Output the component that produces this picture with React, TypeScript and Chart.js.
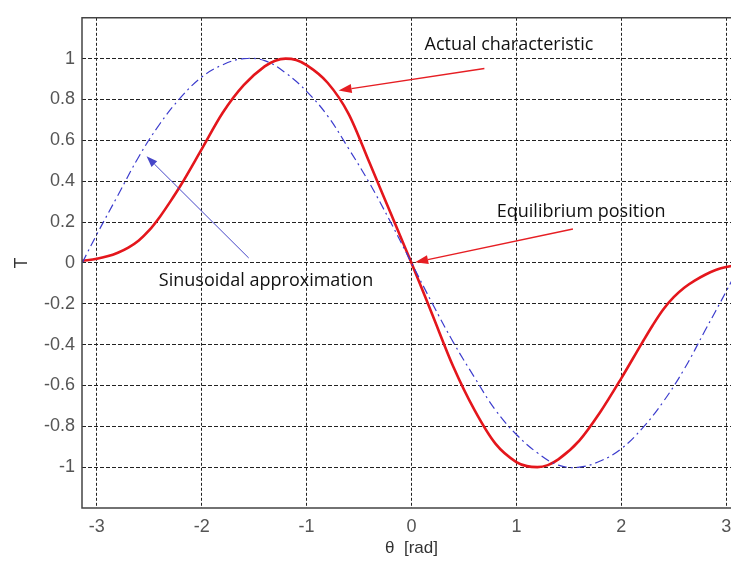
import { useEffect, useRef } from 'react';
import { Chart, registerables } from 'chart.js';

Chart.register(...registerables);

// Actual characteristic (red, solid)
const actualTheta = [-3.14, -3.0, -2.9, -2.8, -2.7, -2.6, -2.5, -2.4, -2.3, -2.2, -2.0, -1.8, -1.6, -1.4, -1.3, -1.2, -1.1, -1.0, -0.8, -0.6, -0.4, -0.2, 0,
  0.2, 0.4, 0.6, 0.8, 1.0, 1.1, 1.2, 1.3, 1.4, 1.6, 1.8, 2.0, 2.2, 2.3, 2.4, 2.5, 2.6, 2.7, 2.8, 2.9, 3.0, 3.14];
const actualT = [0.01, 0.02, 0.032, 0.05, 0.075, 0.11, 0.16, 0.225, 0.3, 0.38, 0.557, 0.735, 0.87, 0.962, 0.99, 1.0, 0.993, 0.968, 0.882, 0.73, 0.49, 0.245, 0,
  -0.255, -0.51, -0.72, -0.885, -0.975, -0.995, -1.0, -0.99, -0.962, -0.87, -0.73, -0.565, -0.39, -0.305, -0.228, -0.168, -0.122, -0.087, -0.058, -0.035, -0.02, -0.01];

// Sinusoidal approximation (blue, dash-dot)
const sinTheta = [-3.14, -3.0, -2.8, -2.6, -2.4, -2.2, -2.0, -1.8, -1.6, -1.4, -1.2, -1.0, -0.8, -0.6, -0.4, -0.2, 0,
  0.2, 0.4, 0.6, 0.8, 1.0, 1.2, 1.4, 1.6, 1.8, 2.0, 2.2, 2.4, 2.6, 2.8, 3.0, 3.14];
const sinT = [0.0, 0.14, 0.33, 0.52, 0.68, 0.81, 0.91, 0.97, 1.0, 0.99, 0.93, 0.84, 0.72, 0.56, 0.39, 0.2, 0,
  -0.2, -0.39, -0.56, -0.72, -0.84, -0.93, -0.99, -1.0, -0.97, -0.91, -0.81, -0.68, -0.52, -0.33, -0.14, 0.0];

// Axis ticks
const yTickValues = [-1, -0.8, -0.6, -0.4, -0.2, 0, 0.2, 0.4, 0.6, 0.8, 1];

// Annotations (data coordinates)
const noteTexts = ['Actual characteristic', 'Equilibrium position', 'Sinusoidal approximation'];
const noteTheta = [0.124, 0.813, -2.409];
const noteT = [1.043, 0.226, -0.113];

const arrowFromTheta = [0.695, 1.539, -1.552];
const arrowFromT = [0.952, 0.166, 0.024];
const arrowToTheta = [-0.695, 0.035, -2.526];
const arrowToT = [0.844, 0.003, 0.522];
const arrowColors = ['rgb(230,30,35)', 'rgb(230,30,35)', 'rgb(70,70,200)'];

const RED = 'rgb(228,22,28)';
const BLUE = 'rgb(60,60,205)';

const framePlugin = {
  id: 'frame',
  afterDraw(chart: any) {
    const { ctx, chartArea } = chart;
    ctx.save();
    ctx.strokeStyle = '#444';
    ctx.lineWidth = 1.5;
    ctx.beginPath();
    ctx.moveTo(chartArea.right, chartArea.top);
    ctx.lineTo(chartArea.left, chartArea.top);
    ctx.lineTo(chartArea.left, chartArea.bottom);
    ctx.lineTo(chartArea.right, chartArea.bottom);
    ctx.stroke();
    ctx.restore();
  },
};

const notesPlugin = {
  id: 'notes',
  afterDatasetsDraw(chart: any) {
    const { ctx } = chart;
    const xs = chart.scales.x;
    const ys = chart.scales.y;
    ctx.save();
    ctx.font = '18px "Open Sans"';
    ctx.fillStyle = '#111';
    ctx.textBaseline = 'alphabetic';
    ctx.textAlign = 'left';
    noteTexts.forEach((t, i) => {
      ctx.fillText(t, xs.getPixelForValue(noteTheta[i]), ys.getPixelForValue(noteT[i]));
    });
    arrowFromTheta.forEach((_, i) => {
      const x1 = xs.getPixelForValue(arrowFromTheta[i]);
      const y1 = ys.getPixelForValue(arrowFromT[i]);
      const x2 = xs.getPixelForValue(arrowToTheta[i]);
      const y2 = ys.getPixelForValue(arrowToT[i]);
      const ang = Math.atan2(y2 - y1, x2 - x1);
      const isBlue = i === 2;
      const headLen = isBlue ? 11 : 13;
      const headW = isBlue ? 4 : 4.5;
      ctx.strokeStyle = arrowColors[i];
      ctx.fillStyle = arrowColors[i];
      ctx.lineWidth = isBlue ? 1 : 1.4;
      const bx = x2 - headLen * Math.cos(ang);
      const by = y2 - headLen * Math.sin(ang);
      ctx.beginPath();
      ctx.moveTo(x1, y1);
      ctx.lineTo(bx, by);
      ctx.stroke();
      ctx.beginPath();
      ctx.moveTo(x2, y2);
      ctx.lineTo(bx + headW * Math.sin(ang), by - headW * Math.cos(ang));
      ctx.lineTo(bx - headW * Math.sin(ang), by + headW * Math.cos(ang));
      ctx.closePath();
      ctx.fill();
    });
    ctx.restore();
  },
};

export default function App() {
  const ref = useRef<HTMLCanvasElement>(null);
  useEffect(() => {
    const chart = new Chart(ref.current!, {
      type: 'line',
      data: {
        datasets: [
          {
            label: 'Sinusoidal approximation',
            data: sinTheta.map((x, i) => ({ x, y: sinT[i] })),
            borderColor: BLUE,
            borderWidth: 1.2,
            borderDash: [9, 4, 2, 4],
            pointRadius: 0,
            tension: 0.4,
            fill: false,
          },
          {
            label: 'Actual characteristic',
            data: actualTheta.map((x, i) => ({ x, y: actualT[i] })),
            borderColor: RED,
            borderWidth: 2.6,
            pointRadius: 0,
            cubicInterpolationMode: 'monotone',
            fill: false,
          },
        ],
      },
      options: {
        animation: false,
        responsive: false,
        devicePixelRatio: 1,
        layout: { padding: { top: 12, right: 19, left: 0, bottom: 0 } },
        plugins: { legend: { display: false }, tooltip: { enabled: false } },
        scales: {
          x: {
            type: 'linear',
            min: -Math.PI,
            max: Math.PI,
            afterFit: (s: any) => { s.height = 53; },
            ticks: {
              stepSize: 1,
              includeBounds: false,
              padding: 8,
              color: '#555',
              font: { family: 'Liberation Sans', size: 18 },
              maxRotation: 0,
            },
            grid: { color: '#222', lineWidth: 1, drawTicks: false },
            border: { display: false, dash: [3, 2] },
            title: {
              display: true,
              text: 'θ  [rad]',
              color: '#333',
              font: { family: 'Liberation Sans', size: 17 },
              padding: { top: 0, bottom: 2 },
            },
          },
          y: {
            type: 'linear',
            min: -1.2,
            max: 1.2,
            afterFit: (s: any) => { s.width = 82; },
            afterBuildTicks: (s: any) => {
              s.ticks = [-1.2, ...yTickValues, 1.2].map((v) => ({ value: v }));
            },
            ticks: {
              padding: 7,
              color: '#555',
              font: { family: 'Liberation Sans', size: 18 },
              callback: (v: any) => (Math.abs(v) > 1.1 ? '' : String(Math.round(v * 10) / 10)),
            },
            grid: {
              color: (c: any) => (c.tick && Math.abs(c.tick.value) > 1.1 ? 'rgba(0,0,0,0)' : '#222'),
              lineWidth: 1,
              drawTicks: false,
            },
            border: { display: false, dash: [4, 2] },
            title: {
              display: true,
              text: 'T',
              color: '#333',
              font: { family: 'Liberation Sans', size: 18 },
              padding: { top: 11, bottom: 0 },
            },
          },
        },
      },
      plugins: [framePlugin, notesPlugin],
    } as any);
    return () => chart.destroy();
  }, []);
  return (
    <div style={{ position: 'absolute', left: 0, top: 0, width: 731, height: 561, overflow: 'hidden', background: '#fff' }}>
      <canvas ref={ref} width={760} height={561} style={{ display: 'block', width: 760, height: 561 }} />
    </div>
  );
}
